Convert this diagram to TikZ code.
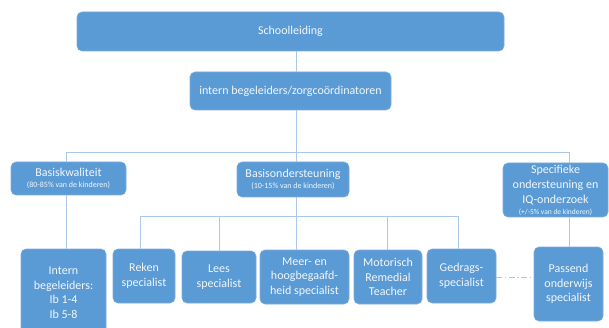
\documentclass[tikz,border=0pt]{standalone}
\usepackage{fontspec}
\setmainfont{Carlito}
\definecolor{boxfill}{HTML}{5B9BD5}
\definecolor{boxline}{HTML}{7FABDC}
\definecolor{connline}{HTML}{A9C8EA}
\definecolor{boxtext}{HTML}{F2F6FB}
\tikzset{
  orgbox/.style={rounded corners=5pt, fill=boxfill, draw=boxline, line width=0.6pt,
    text=boxtext, align=center, inner sep=0pt, font=\fontsize{12}{14.5}\selectfont},
  conn/.style={draw=connline, line width=0.8pt},
}
\newcommand{\smalltxt}[1]{{\fontsize{8}{9}\selectfont #1}}
\begin{document}
\begin{tikzpicture}[x=1pt,y=-1pt]
\useasboundingbox (0,0) rectangle (609,328);
\clip (0,0) rectangle (609,328);
% nodes
\node[orgbox, minimum width=427pt, minimum height=39pt] (school) at (290.5,31.5) {Schoolleiding};
\node[orgbox, minimum width=201pt, minimum height=38pt] (intern) at (290.5,91) {intern begeleiders/zorgco\"ordinatoren};
\node[orgbox, minimum width=115pt, minimum height=33pt] (basis) at (68.5,178.5) {Basiskwaliteit\\[-3pt]\smalltxt{(80-85\% van de kinderen)}};
\node[orgbox, minimum width=112pt, minimum height=35pt] (onder) at (293,179.5) {Basisondersteuning\\[-3pt]\smalltxt{(10-15\% van de kinderen)}};
\node[orgbox, minimum width=105pt, minimum height=54pt, font=\fontsize{12}{15}\selectfont] (spec) at (555.5,190) {Specifieke\\ondersteuning en\\IQ-onderzoek\\[-4pt]{\fontsize{7.5}{8}\selectfont (+/-5\% van de kinderen)}};
\node[orgbox, minimum width=85pt, minimum height=87pt] (ib) at (63.5,292.5) {Intern\\begeleiders:\\Ib 1-4\\Ib 5-8};
\node[orgbox, minimum width=62pt, minimum height=54pt] (reken) at (144,276) {Reken\\specialist};
\node[orgbox, minimum width=74pt, minimum height=52pt] (lees) at (219,277) {Lees\\specialist};
\node[orgbox, minimum width=89pt, minimum height=54pt] (meer) at (304.5,277) {Meer- en\\hoogbegaafd-\\heid specialist};
\node[orgbox, minimum width=68pt, minimum height=54pt] (motor) at (388,277) {Motorisch\\Remedial\\Teacher};
\node[orgbox, minimum width=69pt, minimum height=54pt] (gedrags) at (461.5,276) {Gedrags-\\specialist};
\node[orgbox, minimum width=69pt, minimum height=74pt] (passend) at (568.5,284) {Passend\\onderwijs\\specialist};
% junction coordinates
\coordinate (spine) at (296,0);
\coordinate (tl) at (66,152);
\coordinate (tr) at (569,152);
\coordinate (l1) at (140,216);
\coordinate (l2) at (219,216);
\coordinate (l4) at (387,216);
\coordinate (l5) at (458,216);
% connectors
\draw[conn] (school.south -| spine) -- (intern.north -| spine);
\draw[conn] (intern.south -| spine) -- (onder.north -| spine);
\draw[conn] (basis.north -| tl) -- (tl) -- (tr) -- (spec.north -| tr);
\draw[conn] (basis.south -| tl) -- (ib.north -| tl);
\draw[conn] (spec.south -| tr) -- (passend.north -| tr);
\draw[conn] (onder.south -| spine) -- (meer.north -| spine);
\draw[conn] (reken.north -| l1) -- (l1) -- (l5) -- (gedrags.north -| l5);
\draw[conn] (l2) -- (lees.north -| l2);
\draw[conn] (l4) -- (motor.north -| l4);
\draw[conn, dash pattern=on 6pt off 2.5pt on 1.5pt off 2.5pt] ([yshift=-1pt]gedrags.east) -- ([yshift=-1pt]gedrags.east -| passend.west);
\end{tikzpicture}
\end{document}
